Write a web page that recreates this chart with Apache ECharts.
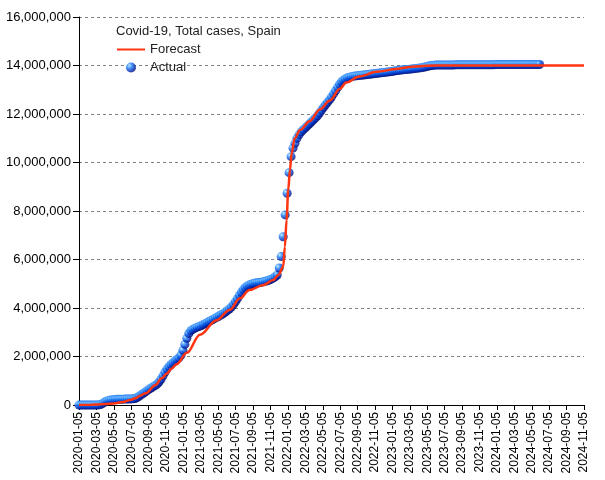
<!DOCTYPE html>
<html>
<head>
<meta charset="utf-8">
<script src="https://cdn.jsdelivr.net/npm/echarts@6/dist/echarts.min.js"></script>
<style>
html,body{margin:0;padding:0;background:#fff;}
#chart{width:605px;height:480px;}
</style>
</head>
<body>
<div id="chart"></div>
<script>
// ---- data ----
const titleText = 'Covid-19, Total cases, Spain';
const seriesNames = ['Forecast', 'Actual'];
const yTicks = [0, 2000000, 4000000, 6000000, 8000000, 10000000, 12000000, 14000000, 16000000];

// Actual: weekly observations starting at this date (millions of cases)
const actualStartDate = '2020-01-05';
const actualStepDays = 7;
const actualMillions = [
  0,0,0,0,0,0,0,0,0,0.001,
  0.008,0.03,0.08,0.13,0.17,0.2,0.21,0.22,0.225,0.232,
  0.236,0.239,0.241,0.244,0.246,0.249,0.252,0.256,0.27,0.31,
  0.36,0.42,0.47,0.53,0.59,0.65,0.70,0.75,0.80,0.86,
  0.95,1.06,1.2,1.35,1.48,1.58,1.67,1.75,1.82,1.88,
  1.95,2.05,2.25,2.5,2.75,2.95,3.06,3.12,3.17,3.21,
  3.24,3.28,3.32,3.36,3.41,3.45,3.49,3.54,3.59,3.63,
  3.68,3.72,3.77,3.83,3.89,3.96,4.04,4.14,4.26,4.38,
  4.52,4.65,4.76,4.85,4.91,4.95,4.98,5.01,
  5.03,5.04,5.05,5.06,5.08,5.10,5.12,5.15,5.19,5.23,5.29,5.36,
  5.65,6.12,6.94,7.84,8.73,9.58,10.24,10.59,10.79,
  11.0,11.15,11.27,11.36,11.44,11.52,11.6,11.68,11.76,11.84,11.93,
  12.04,12.16,12.28,12.38,12.48,12.58,12.7,12.83,12.96,13.1,13.23,
  13.33,13.4,13.45,13.49,13.52,13.54,13.56,13.57,13.58,13.59,
  13.6,13.61,13.62,13.63,13.64,13.65,13.66,13.67,13.68,13.69,
  13.7,13.71,13.72,13.73,13.74,13.75,13.76,13.78,13.79,13.8,
  13.81,13.82,13.83,13.84,13.85,13.86,13.87,13.88,13.89,13.9,
  13.91,13.93,13.95,13.97,13.99,14.0,14.01,
  14.02,14.02,14.02,14.02,14.02,14.02,14.02,14.02,14.02,14.02,
  14.03,14.03,14.03,14.03,14.03,14.03,14.03,14.03,14.03,14.03,
  14.03,14.03,14.03,14.03,14.03,14.03,14.03,14.03,14.03,14.03,
  14.04,14.04,14.04,14.04,14.04,14.04,14.04,14.04,14.04,14.04,
  14.04,14.04,14.04,14.04,14.04,14.04,14.04,14.04,14.04,14.04,
  14.04,14.04,14.04
];

// Forecast curve (millions of cases)
const forecastDates = [
  '2020-01-05','2020-02-05','2020-03-05','2020-04-05','2020-05-05','2020-06-05','2020-07-05','2020-07-20',
  '2020-08-05','2020-08-25','2020-09-29','2020-10-20','2020-11-08','2020-11-23','2020-12-11','2021-01-17',
  '2021-03-02','2021-04-29','2021-06-14','2021-07-20','2021-08-23','2021-10-11','2021-11-14','2021-12-02',
  '2021-12-19','2021-12-25','2021-12-31','2022-01-06','2022-01-12','2022-01-18','2022-01-29','2022-02-16',
  '2022-03-20','2022-04-26','2022-05-29','2022-07-05','2022-07-26','2022-09-11','2022-11-11','2023-01-20',
  '2023-03-14','2023-05-05','2023-07-05','2024-11-05'
];
const forecastMillions = [
  0,0,0.02,0.04,0.06,0.12,0.22,0.28,
  0.38,0.48,0.82,1.1,1.3,1.5,1.68,2.15,
  2.9,3.5,3.92,4.4,4.74,4.95,5.15,5.36,
  5.7,6.53,7.63,8.87,9.69,10.38,11.0,11.34,
  11.7,12.2,12.55,13.05,13.3,13.55,13.74,13.86,
  13.95,13.99,14.0,14.0
];

// ---- helpers ----
function daysInMonth(y, m) { return new Date(Date.UTC(y, m, 0)).getUTCDate(); }
// months since 2020-01-05, piecewise linear between the 5th of each month
function monthIndex(dateStr) {
  const [Y, M, D] = dateStr.split('-').map(Number);
  const base = (Y - 2020) * 12 + (M - 1);
  if (D >= 5) return base + (D - 5) / daysInMonth(Y, M);
  const pY = M === 1 ? Y - 1 : Y, pM = M === 1 ? 12 : M - 1;
  const span = daysInMonth(pY, pM);
  return base - 1 + (D - 5 + span) / span;
}
function labelForMonth(v) {
  const y = 2020 + Math.floor(v / 12);
  const m = (v % 12) + 1;
  return y + '-' + String(m).padStart(2, '0') + '-05';
}
function fmt(v) { return String(v).replace(/\B(?=(\d{3})+(?!\d))/g, ','); }

const startMs = Date.UTC(2020, 0, 5);
const actualData = actualMillions.map((v, i) => {
  const d = new Date(startMs + i * actualStepDays * 86400000).toISOString().slice(0, 10);
  return [monthIndex(d), v * 1e6];
});
const forecastData = forecastDates.map((d, i) => [monthIndex(d), forecastMillions[i] * 1e6]);

const chart = echarts.init(document.getElementById('chart'), null, { renderer: 'canvas' });
const font = 'Liberation Sans, Arial, sans-serif';
const sphere = new echarts.graphic.RadialGradient(0.32, 0.3, 0.8, [
  { offset: 0, color: '#d2f0ff' },
  { offset: 0.2, color: '#4ea8ff' },
  { offset: 0.45, color: '#0f62ea' },
  { offset: 0.75, color: '#0022a8' },
  { offset: 1, color: '#000050' }
]);
const lineColor = '#ff3410';

chart.setOption({
  animation: false,
  backgroundColor: '#fff',
  textStyle: { fontFamily: font },
  title: {
    text: titleText,
    left: 116, top: 25, padding: 0,
    textStyle: { fontFamily: font, fontSize: 13, fontWeight: 'normal', color: '#222' }
  },
  legend: {
    orient: 'vertical',
    left: 117, top: 43, padding: 0,
    itemWidth: 28, itemHeight: 10, itemGap: 5,
    textStyle: { fontFamily: font, fontSize: 13, color: '#222' },
    data: [
      { name: seriesNames[0], icon: 'path://M0,0H28V2H0Z', itemStyle: { color: lineColor } },
      { name: seriesNames[1], icon: 'circle' }
    ]
  },
  grid: { left: 79, right: 21, top: 17, bottom: 75, containLabel: false },
  xAxis: {
    type: 'value', min: 0, max: 58, interval: 2,
    axisLine: { show: true, onZero: false, lineStyle: { color: '#000', width: 1 } },
    axisTick: { show: true, length: 5, lineStyle: { color: '#000' } },
    splitLine: { show: false },
    axisLabel: {
      rotate: 90, margin: 7, fontSize: 12, color: '#000', fontFamily: font,
      formatter: v => labelForMonth(v)
    }
  },
  yAxis: {
    type: 'value', min: yTicks[0], max: yTicks[yTicks.length - 1], interval: 2000000,
    axisLine: { show: true, lineStyle: { color: '#000', width: 1 } },
    axisTick: { show: true, length: 6, lineStyle: { color: '#000' } },
    splitLine: { show: true, lineStyle: { color: '#808080', type: [3, 3], width: 1 } },
    axisLabel: { fontSize: 13, color: '#000', margin: 8, fontFamily: font, formatter: v => fmt(v) }
  },
  series: [
    {
      name: seriesNames[0], type: 'line', data: forecastData,
      symbol: 'none', showSymbol: false, smooth: 0.35, smoothMonotone: 'x', z: 4,
      lineStyle: { color: lineColor, width: 2.5 },
      itemStyle: { color: lineColor }
    },
    {
      name: seriesNames[1], type: 'scatter', data: actualData,
      symbol: 'circle', symbolSize: 9, clip: false, z: 3,
      itemStyle: { color: sphere }
    }
  ]
});
</script>
</body>
</html>
